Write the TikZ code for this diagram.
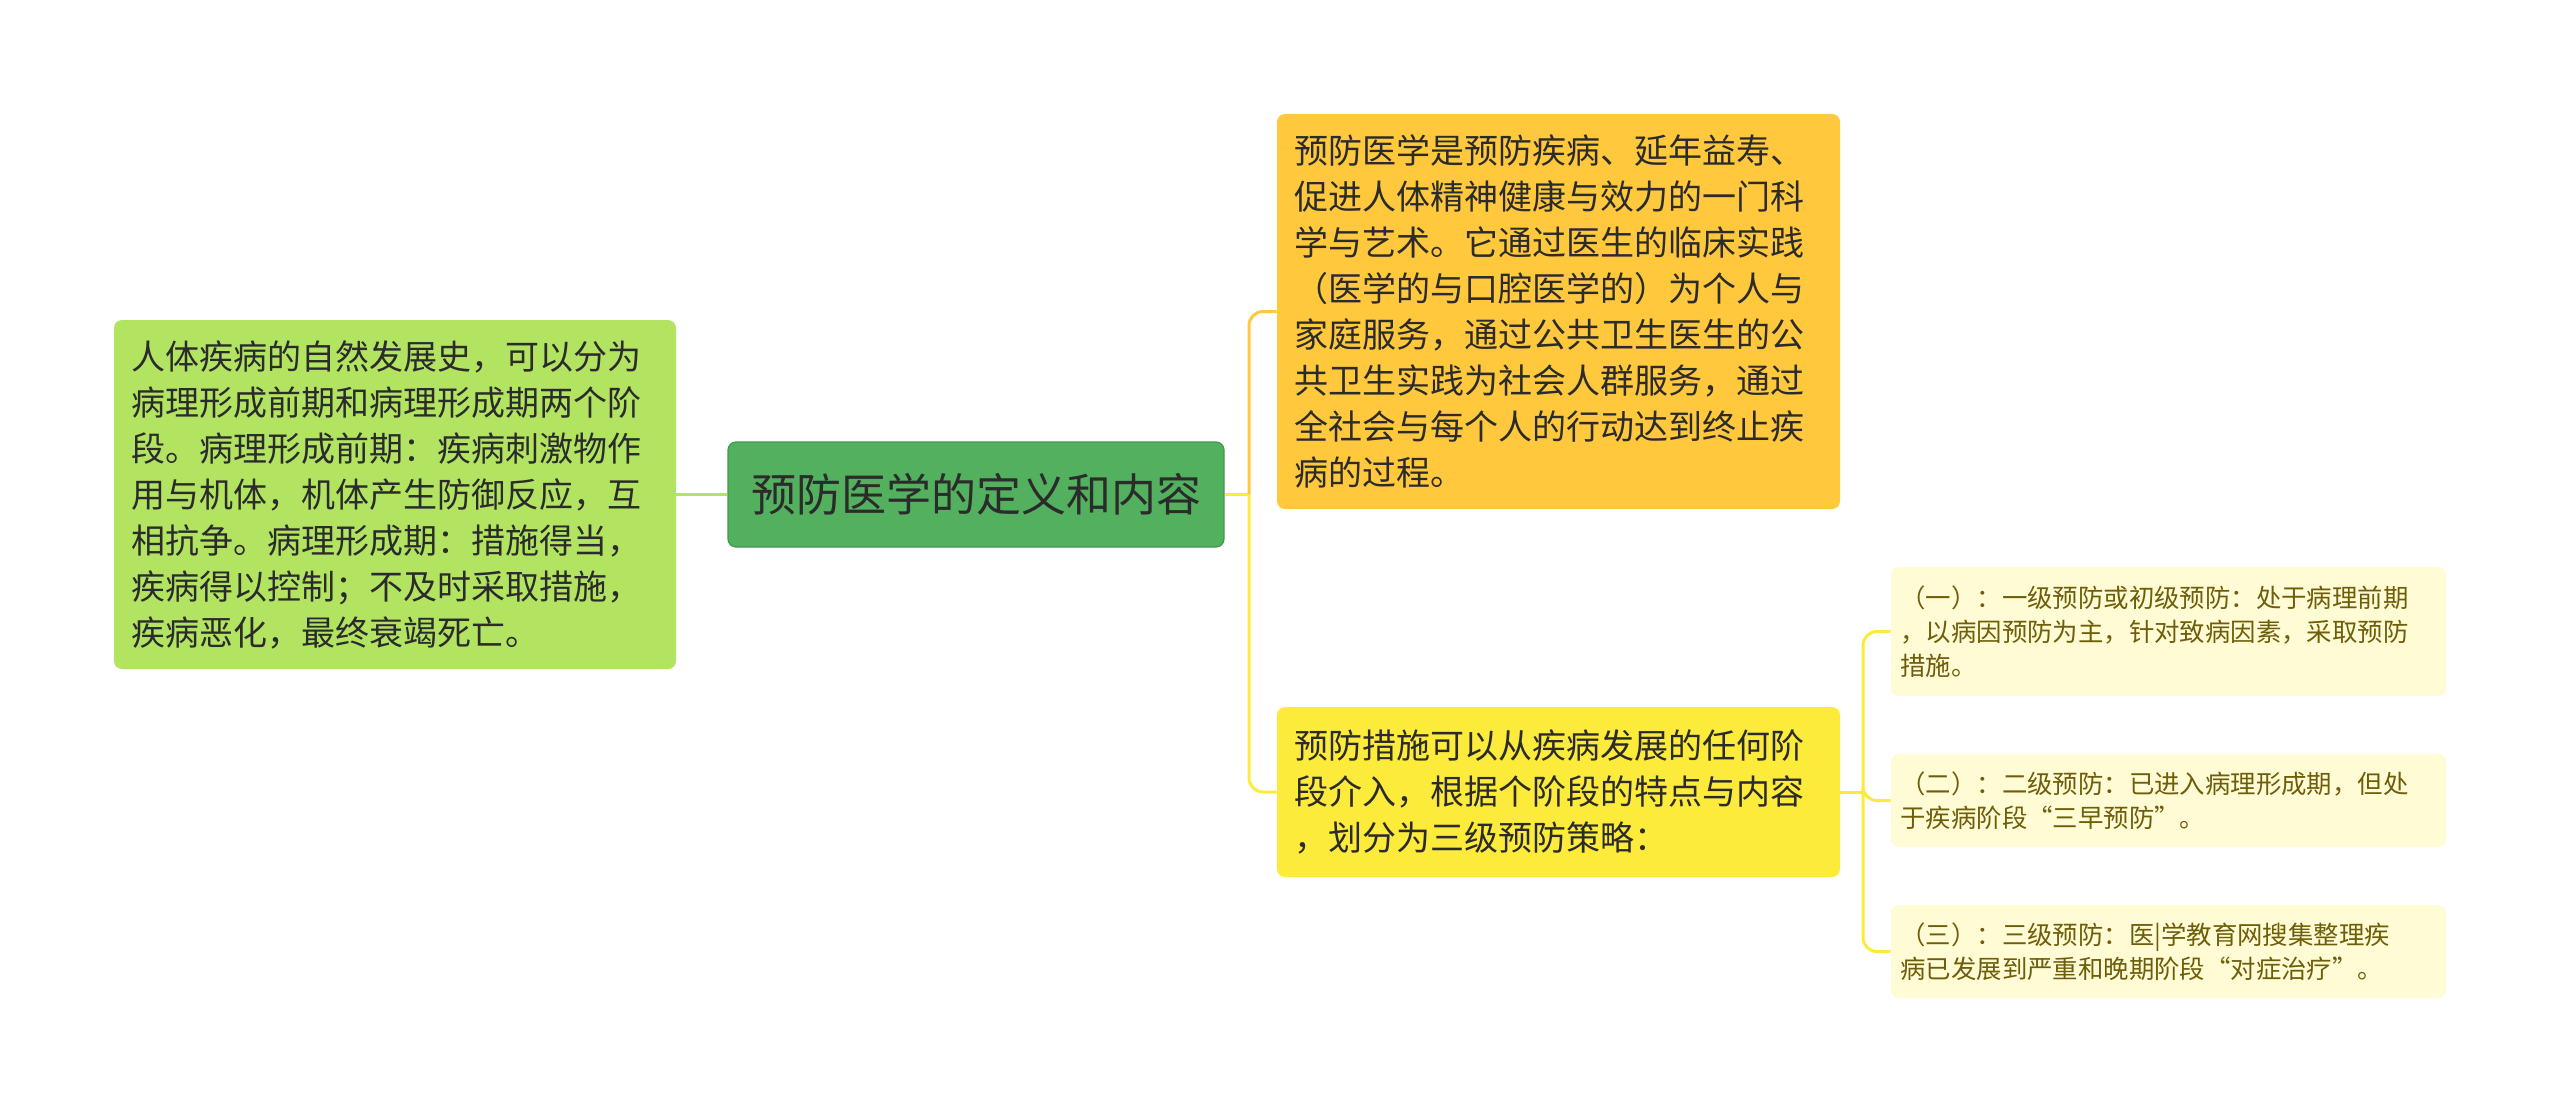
\documentclass[tikz,border=0pt]{standalone}
\usepackage{fontspec}
\setmainfont{Noto Sans CJK SC}
\definecolor{rootfill}{HTML}{52B05E}
\definecolor{rootline}{HTML}{3F9A4B}
\definecolor{leftfill}{HTML}{B2E462}
\definecolor{defnfill}{HTML}{FFC83D}
\definecolor{stepfill}{HTML}{FDEB3C}
\definecolor{levelfill}{HTML}{FFFBD4}
\definecolor{maintext}{HTML}{2B2B2B}
\definecolor{leveltext}{HTML}{6E5E0A}
\tikzset{
  box/.style={rounded corners=4pt, align=left, inner sep=0pt, text=maintext,
    font=\fontsize{17pt}{23pt}\selectfont},
  levelbox/.style={box, fill=levelfill, text=leveltext, text width=268pt,
    minimum width=277.5pt, font=\fontsize{12.7pt}{17pt}\selectfont},
  link/.style={line width=1.5pt, rounded corners=7pt}
}

\begin{document}
\begin{tikzpicture}[x=0.5pt, y=-0.5pt]
		%%%%% START %%%%%
		\useasboundingbox (0, 0) rectangle (2560, 1113);
		
		\node[box, fill=rootfill, draw=rootline, line width=0.6pt, align=center,
		  minimum width=248pt, minimum height=52.5pt,
		  font=\fontsize{22.5pt}{26pt}\selectfont] (root) at (976, 494.5) {预防医学的定义和内容};
		
		\node[box, fill=leftfill, text width=264pt, minimum width=281pt, minimum height=174.5pt] (history) at (395, 494.5)
		  {人体疾病的自然发展史，可以分为\\病理形成前期和病理形成期两个阶\\段。病理形成前期：疾病刺激物作\\用与机体，机体产生防御反应，互\\相抗争。病理形成期：措施得当，\\疾病得以控制；不及时采取措施，\\疾病恶化，最终衰竭死亡。};
		
		\node[box, fill=defnfill, text width=264pt, minimum width=281.5pt, minimum height=197.5pt] (defn) at (1558.5, 311.5)
		  {预防医学是预防疾病、延年益寿、\\促进人体精神健康与效力的一门科\\学与艺术。它通过医生的临床实践\\（医学的与口腔医学的）为个人与\\家庭服务，通过公共卫生医生的公\\共卫生实践为社会人群服务，通过\\全社会与每个人的行动达到终止疾\\病的过程。};
		
		\node[box, fill=stepfill, text width=264pt, minimum width=281.5pt, minimum height=85pt] (steps) at (1558.5, 792)
		  {预防措施可以从疾病发展的任何阶\\段介入，根据个阶段的特点与内容\\，划分为三级预防策略：};
		
		\node[levelbox, minimum height=64.5pt] (lvlone) at (2168.5, 631.5)
		  {（一）：一级预防或初级预防：处于病理前期\\，以病因预防为主，针对致病因素，采取预防\\措施。};
		\node[levelbox, minimum height=46.5pt] (lvltwo) at (2168.5, 800.5)
		  {（二）：二级预防：已进入病理形成期，但处\\于疾病阶段“三早预防”。};
		\node[levelbox, minimum height=46.5pt] (lvlthree) at (2168.5, 951.5)
		  {（三）：三级预防：医|学教育网搜集整理疾\\病已发展到严重和晚期阶段“对症治疗”。};
		
		\coordinate (mainbus) at (1249, 494.5);
		\coordinate (levelbus) at (1863, 792);
		
		\draw[link, leftfill] (root.west) -- (history.east);
		\draw[link, stepfill] (root.east) -- (mainbus);
		\draw[link, defnfill] (mainbus) |- (defn.west);
		\draw[link, stepfill] (mainbus) |- (steps.west);
		
		\draw[link, stepfill] (steps.east) -- (levelbus);
		\draw[link, stepfill] (levelbus) |- (lvlone.west);
		\draw[link, stepfill] (levelbus) |- (lvltwo.west);
		\draw[link, stepfill] (levelbus) |- (lvlthree.west);
		%%%%% END %%%%%
\end{tikzpicture}
\end{document}
